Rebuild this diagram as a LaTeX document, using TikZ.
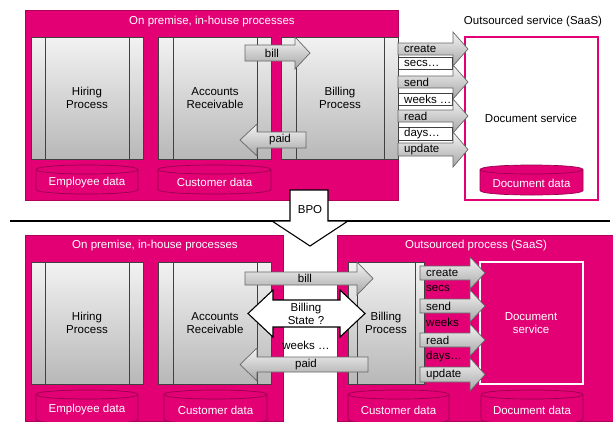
\documentclass[tikz,border=0pt]{standalone}
\usepackage{fontspec}
\setmainfont{Liberation Sans}
\definecolor{mag}{HTML}{E20074}
\definecolor{magdark}{HTML}{B0005C}
\definecolor{cyldark}{HTML}{98004E}
\tikzset{
 every node/.style={font=\fontsize{11.5}{13}\selectfont, inner sep=0pt},
 pinkbox/.style={fill=mag, draw=magdark, line width=0.6pt},
 procbox/.style={draw=black!75, line width=0.9pt, top color=black!5, bottom color=black!28},
 procline/.style={draw=black!75, line width=0.9pt},
 garrow/.style={draw=black!60, line width=0.7pt, top color=black!4, bottom color=black!35},
 wbox/.style={draw=black!75, fill=white, line width=0.7pt},
 cylfill/.style={fill=mag, draw=cyldark, line width=0.7pt},
 cylline/.style={draw=cyldark, line width=0.7pt},
 cyltext/.style={text=white},
 bpoarrow/.style={draw=black, fill=white, line width=1.1pt, line join=miter},
 lbl/.style={anchor=west},
}
\newcommand\ProcBox[8]{%
 \path[procbox] (#1,#3) rectangle (#2,#4);
 \draw[procline] (#5,#3) -- (#5,#4) (#6,#3) -- (#6,#4);
 \node[align=center] (#7) at ({(#5+#6)/2},{(#3+#4)/2}) {#8};}
\newcommand\Cyl[6]{%
 \path[cylfill] (#1,#3+4.5) .. controls (#1,#3-1.5) and (#2,#3-1.5) .. (#2,#3+4.5) -- (#2,#4-4.5) .. controls (#2,#4+1.5) and (#1,#4+1.5) .. (#1,#4-4.5) -- cycle;
 \draw[cylline] (#1,#3+4.5) .. controls (#1,#3+10.5) and (#2,#3+10.5) .. (#2,#3+4.5);
 \node[cyltext] (#5) at ({(#1+#2)/2},{(#3+#4)/2+3}) {#6};}
\newcommand\RArr[6]{%
 \path[garrow] (#1,#4) -- (#2,#4) -- (#2,#4-#6) -- (#3,{(#4+#5)/2}) -- (#2,#5+#6) -- (#2,#5) -- (#1,#5) -- cycle;}
\newcommand\LArr[6]{%
 \path[garrow] (#1,{(#4+#5)/2}) -- (#2,#4-#6) -- (#2,#4) -- (#3,#4) -- (#3,#5) -- (#2,#5) -- (#2,#5+#6) -- cycle;}
\begin{document}
\begin{tikzpicture}[x=1pt,y=-1pt]
\useasboundingbox (0,0) rectangle (613,421);
% ---------- top ----------
\path[pinkbox] (25,10) rectangle (398,200);
\node[text=white] (t1) at (212,22) {On premise, in-house processes};
\ProcBox{31}{143}{37}{159}{45}{129}{hire1}{Hiring\\Process}
\ProcBox{158}{271}{37}{159}{173}{257}{ar1}{Accounts\\Receivable}
\ProcBox{281}{398}{37}{159}{296}{384}{bill1}{Billing\\Process}
\Cyl{36}{138}{165}{194}{emp1}{Employee data}
\Cyl{158}{271}{165}{194}{cust1}{Customer data}
\RArr{245}{295}{310}{45}{61}{8}
\node (billa1) at (272,53) {bill};
\LArr{240}{257}{306}{132}{148}{8}
\node (paida1) at (280,140) {paid};
\node (t2) at (533,22) {Outsourced service (SaaS)};
\draw[mag, line width=1.2pt, fill=white] (465,37) rectangle (598,200);
\node (docs1) at (531,118) {Document service};
\Cyl{480}{583}{165}{195}{doc1}{Document data}
\RArr{398}{453}{468}{43}{55}{11}
\node[lbl] (c1) at (404,49) {create};
\path[wbox] (398,57) rectangle (452,69);
\node[lbl] (s1) at (404,63) {secs…};
\RArr{398}{453}{468}{76}{88}{11}
\node[lbl] (se1) at (404,82) {send};
\path[wbox] (398,93) rectangle (452,105);
\node[lbl] (w1) at (404,99) {weeks …};
\RArr{398}{453}{468}{110}{122}{11}
\node[lbl] (r1) at (404,116) {read};
\path[wbox] (398,127) rectangle (452,140);
\node[lbl] (d1) at (404,133.5) {days…};
\RArr{398}{453}{468}{143}{156}{11}
\node[lbl] (u1) at (404,149.5) {update};
% ---------- BPO ----------
\draw[black, line width=1.2pt] (10,221) -- (610,221);
\path[bpoarrow] (290,190) -- (328,190) -- (328,221) -- (348,221) -- (310,246) -- (272,221) -- (290,221) -- cycle;
\node (bpo) at (310,210) {BPO};
% ---------- bottom ----------
\path[pinkbox] (25,235) rectangle (283,421);
\path[pinkbox] (337,235) rectangle (613,421);
\node[text=white] (t3) at (155,246) {On premise, in-house processes};
\node[text=white] (t4) at (476,246) {Outsourced process (SaaS)};
\ProcBox{31}{143}{262}{384}{45}{129}{hire2}{Hiring\\Process}
\ProcBox{158}{271}{262}{384}{173}{257}{ar2}{Accounts\\Receivable}
\ProcBox{348}{424}{262}{384}{357}{415}{bill2}{Billing\\Process}
\draw[white, line width=1.5pt] (480,262) rectangle (583,384);
\node[text=white, align=center] (docs2) at (531,323) {Document\\service};
\Cyl{36}{138}{390}{424}{emp2}{Employee data}
\Cyl{164}{267}{390}{424}{cust2}{Customer data}
\Cyl{348}{449}{390}{424}{cust3}{Customer data}
\Cyl{481}{583}{390}{424}{doc2}{Document data}
\RArr{245}{357}{373}{272}{285}{10}
\node (billa2) at (305,278.5) {bill};
\path[bpoarrow] (248,313.5) -- (273,290) -- (273,300) -- (340,300) -- (340,290) -- (365,313.5) -- (340,337) -- (340,327) -- (273,327) -- (273,337) -- cycle;
\node[align=center] (state) at (306,313.5) {Billing\\State ?};
\node (w2) at (306,345) {weeks …};
\LArr{240}{257}{368}{357}{372}{9}
\node (paida2) at (306,364.5) {paid};
\RArr{420}{470}{485}{266}{280}{9}
\node[lbl] (c2) at (426,273) {create};
\node[lbl] (s2) at (426,288) {secs};
\RArr{420}{470}{485}{299}{313}{9}
\node[lbl] (se2) at (426,306) {send};
\node[lbl] (w3) at (426,322) {weeks};
\RArr{420}{470}{485}{333}{347}{9}
\node[lbl] (r2) at (426,340) {read};
\node[lbl] (d2) at (426,357) {days…};
\RArr{420}{470}{485}{367}{382}{9}
\node[lbl] (u2) at (426,374.5) {update};
\end{tikzpicture}
\end{document}
